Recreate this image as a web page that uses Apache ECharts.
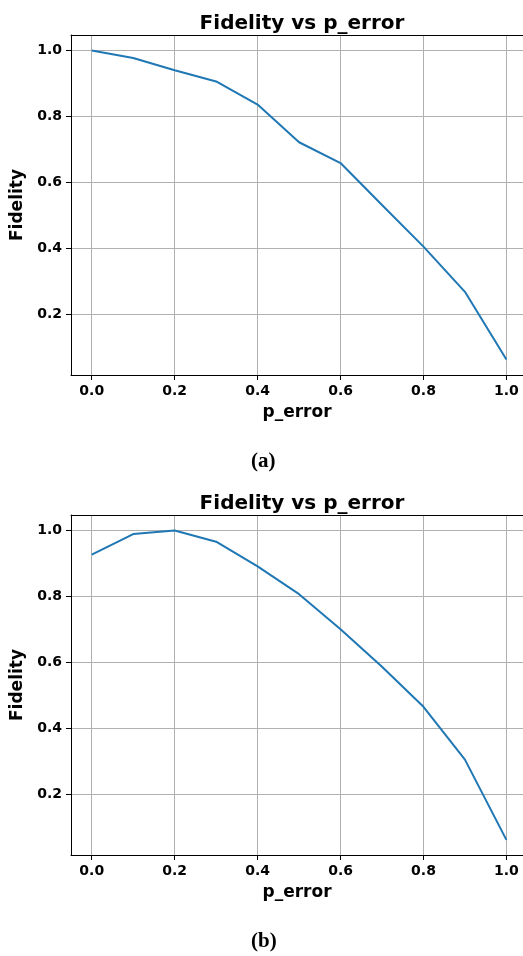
<!DOCTYPE html>
<html>
<head>
<meta charset="utf-8">
<script src="https://cdn.jsdelivr.net/npm/echarts@6/dist/echarts.min.js"></script>
<style>
html,body{margin:0;padding:0;background:#fff;}
#c{width:523px;height:956px;}
</style>
</head>
<body>
<div id="c"></div>
<script>
var pError = [0.0, 0.1, 0.2, 0.3, 0.4, 0.5, 0.6, 0.7, 0.8, 0.9, 1.0];
var fidelityA = [1.0, 0.977, 0.940, 0.906, 0.836, 0.722, 0.659, 0.532, 0.406, 0.269, 0.064];
var fidelityB = [0.927, 0.989, 1.0, 0.966, 0.891, 0.807, 0.701, 0.587, 0.466, 0.306, 0.063];
var xTicks = [0.0, 0.2, 0.4, 0.6, 0.8, 1.0];
var yTicks = [0.2, 0.4, 0.6, 0.8, 1.0];
var titleText = 'Fidelity vs p_error';
var xName = 'p_error';
var yName = 'Fidelity';
var captions = ['(a)', '(b)'];

var FONT = '"DejaVu Sans", sans-serif';
var XMIN = -0.05, XMAX = 1.04;
function pairs(ys){ return pError.map(function(x,i){ return [x, ys[i]]; }); }

function xAxis(idx){
  return {
    type:'value', gridIndex:idx, min:XMIN, max:XMAX, position:'bottom',
    name:xName, nameLocation:'middle', nameGap:29,
    nameTextStyle:{fontFamily:FONT, fontWeight:'bold', fontSize:17, color:'#000'},
    axisLine:{show:true, onZero:false, lineStyle:{color:'#000', width:1}},
    axisTick:{show:true, length:5, customValues:xTicks, lineStyle:{color:'#000', width:1}},
    axisLabel:{show:true, customValues:xTicks, margin:9, fontFamily:FONT, fontWeight:'bold', fontSize:14, color:'#000',
      formatter:function(v){ return v.toFixed(1); }},
    splitLine:{show:true, lineStyle:{color:'#b0b0b0', width:1}}
  };
}
function topAxis(idx){
  return {
    type:'value', gridIndex:idx, min:XMIN, max:XMAX, position:'top',
    axisLine:{show:true, onZero:false, lineStyle:{color:'#000', width:1}},
    axisTick:{show:false}, axisLabel:{show:false}, splitLine:{show:false}
  };
}
function yAxis(idx){
  return {
    type:'value', gridIndex:idx, min:0.0172, max:1.0468,
    name:yName, nameLocation:'middle', nameGap:38, nameRotate:90,
    nameTextStyle:{fontFamily:FONT, fontWeight:'bold', fontSize:17, color:'#000'},
    axisLine:{show:true, onZero:false, lineStyle:{color:'#000', width:1}},
    axisTick:{show:true, length:5, customValues:yTicks, lineStyle:{color:'#000', width:1}},
    axisLabel:{show:true, customValues:yTicks, margin:9, fontFamily:FONT, fontWeight:'bold', fontSize:14, color:'#000',
      formatter:function(v){ return v.toFixed(1); }},
    splitLine:{show:true, lineStyle:{color:'#b0b0b0', width:1}}
  };
}

var chart = echarts.init(document.getElementById('c'), null, {renderer:'canvas'});
chart.setOption({
  backgroundColor:'#fff',
  animation:false,
  title:[
    {text:titleText, left:297, top:9, textAlign:'center',
     textStyle:{fontFamily:FONT, fontWeight:'bold', fontSize:20, color:'#000'}},
    {text:titleText, left:297, top:489, textAlign:'center',
     textStyle:{fontFamily:FONT, fontWeight:'bold', fontSize:20, color:'#000'}}
  ],
  grid:[
    {left:71, top:35, width:452, height:340, show:false},
    {left:71, top:515, width:452, height:340, show:false}
  ],
  xAxis:[xAxis(0), xAxis(1), topAxis(0), topAxis(1)],
  yAxis:[yAxis(0), yAxis(1)],
  series:[
    {type:'line', xAxisIndex:0, yAxisIndex:0, data:pairs(fidelityA), showSymbol:false, symbol:'none',
     lineStyle:{color:'#1f77b4', width:2}},
    {type:'line', xAxisIndex:1, yAxisIndex:1, data:pairs(fidelityB), showSymbol:false, symbol:'none',
     lineStyle:{color:'#1f77b4', width:2}}
  ],
  graphic:[
    {type:'text', left:251, top:451, style:{text:captions[0], font:'bold 21px "Liberation Serif", serif', fill:'#000'}},
    {type:'text', left:251, top:931, style:{text:captions[1], font:'bold 21px "Liberation Serif", serif', fill:'#000'}}
  ]
});
</script>
</body>
</html>
